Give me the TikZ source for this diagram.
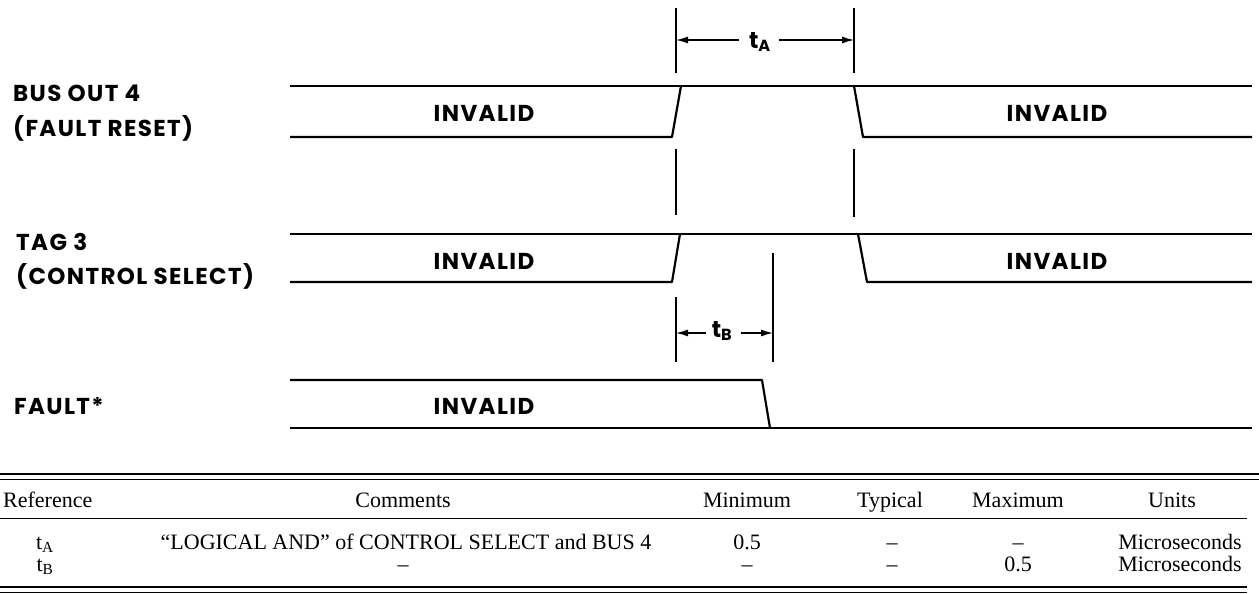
\documentclass[tikz,border=0pt]{standalone}
\usepackage{fontspec}
\setmainfont{Liberation Serif}
\newfontfamily\lab[LetterSpace=6]{Poppins}
\usetikzlibrary{arrows.meta}
\begin{document}
\begin{tikzpicture}[x=1pt,y=-1pt,
  sig/.style={line width=2.2pt, line join=round},
  markline/.style={line width=1.3pt},
  dimarrow/.style={line width=1.3pt, -{Latex[length=12pt,width=7pt]}},
  siglabel/.style={font=\lab\fontsize{23}{26}\selectfont\bfseries, anchor=west, inner sep=0pt},
  inv/.style={font=\lab\fontsize{23}{26}\selectfont\bfseries, inner sep=0pt},
  dimlabel/.style={font=\lab\fontsize{23}{26}\selectfont\bfseries, inner sep=0pt},
  tab/.style={font=\fontsize{22}{24}\selectfont, inner sep=0pt, anchor=base},
  rule/.style={line width=1.4pt}]
\useasboundingbox (0,0) rectangle (1259,594);

% ---------- signal names ----------
\node[siglabel] (n1a) at (13,93) {BUS OUT 4};
\node[siglabel] (n1b) at (13,128) {(FAULT RESET)};
\node[siglabel] (n2a) at (16,242) {TAG 3};
\node[siglabel] (n2b) at (16,276) {(CONTROL SELECT)};
\node[siglabel] (n3a) at (14,406) {FAULT*};

% ---------- BUS OUT 4 ----------
\draw[sig] (290,86) -- (1252,86);
\draw[sig] (290,137) -- (672,137) -- (681,86);
\draw[sig] (854,86) -- (863,137) -- (1252,137);
\node[inv] (i1a) at (484,113) {INVALID};
\node[inv] (i1b) at (1057,113) {INVALID};

% ---------- TAG 3 ----------
\draw[sig] (290,234) -- (1252,234);
\draw[sig] (290,282) -- (672,282) -- (680,234);
\draw[sig] (858,234) -- (867,282) -- (1252,282);
\node[inv] (i2a) at (484,261) {INVALID};
\node[inv] (i2b) at (1057,261) {INVALID};

% ---------- FAULT* ----------
\draw[sig] (290,380) -- (762,380) -- (770,428);
\draw[sig] (290,428) -- (1252,428);
\node[inv] (i3a) at (484,406) {INVALID};

% ---------- markers ----------
\coordinate (mA1t) at (676,8);   \coordinate (mA1b) at (676,73);
\coordinate (mA2t) at (854,8);   \coordinate (mA2b) at (854,73);
\coordinate (mA1c) at (676,149); \coordinate (mA1d) at (676,215);
\coordinate (mA2c) at (854,149); \coordinate (mA2d) at (854,217);
\draw[markline] (mA1t) -- (mA1b);
\draw[markline] (mA2t) -- (mA2b);
\draw[markline] (mA1c) -- (mA1d);
\draw[markline] (mA2c) -- (mA2d);
\coordinate (mB1t) at (676,297); \coordinate (mB1b) at (676,362);
\coordinate (mB2t) at (773,253); \coordinate (mB2b) at (773,362);
\draw[markline] (mB1t) -- (mB1b);
\draw[markline] (mB2t) -- (mB2b);

% ---------- dimensions ----------
\node[dimlabel] (tA) at (760,42) {t\textsubscript{A}};
\coordinate (tAl) at (676,40); \coordinate (tAr) at (854,40);
\coordinate (tAs1) at (739,40); \coordinate (tAs2) at (779,40);
\draw[dimarrow] (tAs1) -- (tAl);
\draw[dimarrow] (tAs2) -- (tAr);
\node[dimlabel] (tB) at (722,331) {t\textsubscript{B}};
\coordinate (tBl) at (676,333); \coordinate (tBr) at (773,333);
\coordinate (tBs1) at (706,333); \coordinate (tBs2) at (741,333);
\draw[dimarrow] (tBs1) -- (tBl);
\draw[dimarrow] (tBs2) -- (tBr);

% ---------- table ----------
\coordinate (rTl) at (0,474);  \coordinate (rTr) at (1259,474);
\coordinate (rTl2) at (0,479); \coordinate (rTr2) at (1259,479);
\coordinate (rHl) at (0,518);  \coordinate (rHr) at (1247,518);
\coordinate (rBl) at (0,587);  \coordinate (rBr) at (1247,587);
\coordinate (rBl2) at (0,592); \coordinate (rBr2) at (1247,592);
\draw[rule] (rTl) -- (rTr);
\draw[line width=0.9pt] (rTl2) -- (rTr2);
\draw[line width=0.9pt] (rHl) -- (rHr);
\draw[rule] (rBl) -- (rBr);
\draw[line width=0.9pt] (rBl2) -- (rBr2);

\node[tab, anchor=base west] (hRef) at (3,507) {Reference};
\node[tab] (hCom) at (403,507) {Comments};
\node[tab] (hMin) at (747,507) {Minimum};
\node[tab] (hTyp) at (890,507) {Typical};
\node[tab] (hMax) at (1018,507) {Maximum};
\node[tab] (hUni) at (1172,507) {Units};

\node[tab] (rA) at (45,549) {t\textsubscript{A}};
\node[tab] (cA) at (406,549) {``LOGICAL AND'' of CONTROL SELECT and BUS 4};
\node[tab] (minA) at (747,549) {0.5};
\node[tab] (typA) at (892,549) {\textendash};
\node[tab] (maxA) at (1018,549) {\textendash};
\node[tab] (uA) at (1180,549) {Microseconds};

\node[tab] (rB) at (45,571) {t\textsubscript{B}};
\node[tab] (cB) at (403,571) {\textendash};
\node[tab] (minB) at (747,571) {\textendash};
\node[tab] (typB) at (892,571) {\textendash};
\node[tab] (maxB) at (1018,571) {0.5};
\node[tab] (uB) at (1180,571) {Microseconds};
\end{tikzpicture}
\end{document}
